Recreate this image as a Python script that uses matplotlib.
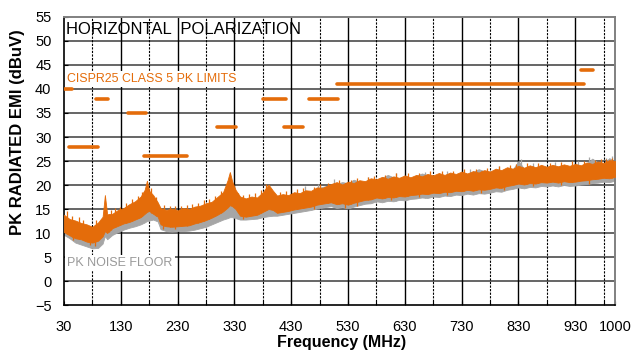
import numpy as np
import matplotlib
matplotlib.use("Agg")
import matplotlib.pyplot as plt

plt.rcParams['font.family'] = ['Liberation Sans', 'DejaVu Sans']

ORANGE = '#E46C0A'
GRAY = '#A6A6A6'

freq = [30, 40, 50, 60, 70, 80, 90, 98, 102, 106, 115, 125, 135, 145, 155, 165,
        172, 176, 180, 187, 195, 200, 210, 220, 230, 240, 250, 260, 270, 280,
        290, 300, 310, 318, 322, 326, 332, 340, 350, 360, 370, 380, 390, 398,
        405, 415, 425, 435, 445, 455, 465, 475, 485,
        500, 510, 520, 530, 540, 550, 560, 570, 580, 590, 600, 610, 620, 630,
        640, 650, 660, 670, 680, 690, 700, 710, 720, 730, 740, 750, 760, 770,
        780, 790, 800, 810, 820, 830, 840, 850, 860, 870, 880, 890, 900, 910,
        920, 930, 940, 950, 960, 970, 980, 990, 1000]

orange_hi = [13.8, 12.9, 12.6, 12.1, 11.8, 11.3, 12.2, 13.4, 17.9, 13.9, 14.0, 14.8,
             15.2, 16.0, 16.6, 17.6, 19.0, 20.9, 18.8, 17.9, 16.4, 15.2, 14.8, 15.1,
             14.7, 15.2, 15.0, 15.5, 15.7, 16.2, 16.5, 17.5, 18.5, 21.0, 22.7, 20.8,
             19.0, 17.6, 17.2, 17.6, 17.4, 18.5, 20.1, 18.8, 17.8, 18.1, 17.9, 18.5,
             18.3, 18.9, 18.8, 19.5, 19.4,
             20.2, 20.6, 20.1, 20.7, 20.4, 21.0, 20.8, 21.4, 21.2, 21.7, 21.3, 21.8,
             21.5, 22.0, 21.6, 22.1, 21.8, 22.3, 22.0, 22.5, 22.1, 22.6, 22.3, 22.8,
             22.4, 22.9, 22.6, 23.1, 22.8, 23.4, 23.1, 23.7, 23.4, 24.0, 23.6, 24.1,
             23.7, 24.2, 23.8, 24.2, 23.9, 24.3, 24.0, 24.4, 24.1, 24.7, 24.4, 24.9,
             24.6, 25.2, 25.0]

orange_lo = [10.2, 9.5, 8.9, 8.7, 8.2, 8.0, 8.4, 9.3, 10.4, 10.0, 11.0, 11.5,
             12.0, 12.3, 12.8, 13.3, 14.0, 14.4, 14.6, 14.0, 13.4, 11.8, 11.4, 11.3,
             11.4, 11.5, 11.6, 12.0, 12.3, 12.7, 13.2, 13.8, 14.5, 15.3, 15.8, 15.6,
             15.0, 13.6, 13.4, 13.6, 13.8, 14.4, 15.0, 14.8, 14.2, 14.4, 14.6, 14.9,
             15.1, 15.3, 15.5, 15.9, 16.1,
             16.4, 16.0, 16.2, 15.9, 16.3, 16.6, 16.9, 17.0, 17.4, 17.2, 17.5, 17.4,
             17.7, 17.6, 17.9, 18.0, 18.2, 18.1, 18.4, 18.3, 18.6, 18.5, 18.8, 18.7,
             19.0, 18.8, 19.1, 19.0, 19.2, 19.5, 19.4, 19.8, 20.0, 20.3, 20.1, 20.4,
             20.3, 20.6, 20.5, 20.7, 20.5, 20.8, 20.6, 20.7, 20.9, 21.0, 21.2, 21.3,
             21.5, 21.4, 21.7]

gray_hi = [12.4, 11.8, 11.2, 10.8, 10.4, 10.1, 10.6, 11.2, 11.8, 11.2, 11.6, 12.0,
           12.4, 12.9, 13.3, 13.9, 14.8, 15.4, 15.0, 15.8, 14.8, 12.9, 12.4, 12.2,
           12.3, 12.4, 12.5, 12.7, 13.0, 13.3, 13.7, 14.3, 15.4, 16.6, 17.1, 16.9,
           15.7, 14.3, 14.1, 14.1, 14.3, 15.0, 16.2, 15.7, 15.1, 15.2, 16.0, 16.6,
           17.2, 17.9, 18.4, 19.2, 19.6,
           20.0, 20.3, 20.6, 20.4, 21.1, 20.7, 20.6, 21.2, 21.0, 21.5, 22.1, 21.6,
           21.3, 21.8, 21.4, 21.9, 22.4, 22.1, 21.8, 22.3, 21.9, 22.4, 22.1, 22.6,
           22.2, 22.7, 23.3, 22.9, 22.6, 23.2, 22.9, 23.5, 23.2, 25.0, 23.4, 23.9,
           23.5, 24.0, 23.6, 24.0, 23.7, 24.1, 23.8, 24.2, 23.9, 24.5, 25.5, 24.7,
           24.4, 25.6, 24.8]

gray_lo = [9.6, 8.9, 8.0, 7.6, 7.2, 6.8, 6.9, 7.8, 9.4, 8.7, 9.6, 10.2,
           10.7, 11.1, 11.4, 11.8, 12.2, 12.5, 12.6, 12.8, 12.4, 10.8, 10.4, 10.3,
           10.4, 10.4, 10.5, 10.7, 11.0, 11.3, 11.8, 12.3, 12.8, 13.1, 13.3, 13.3,
           13.1, 12.8, 12.8, 12.9, 13.0, 13.3, 13.5, 13.6, 13.6, 13.8, 14.0, 14.2,
           14.4, 14.6, 14.8, 15.1, 15.3,
           15.6, 15.2, 15.4, 15.1, 15.5, 15.8, 16.1, 16.2, 16.6, 16.4, 16.7, 16.6,
           16.9, 16.8, 17.1, 17.2, 17.4, 17.3, 17.6, 17.5, 17.8, 17.7, 18.0, 17.9,
           18.2, 18.0, 18.3, 18.2, 18.4, 18.7, 18.6, 19.0, 19.2, 19.5, 19.3, 19.6,
           19.5, 19.8, 19.7, 19.9, 19.7, 20.0, 19.8, 19.9, 20.1, 20.2, 20.4, 20.5,
           20.7, 20.6, 20.9]

# single-bin spikes sticking out of the bands
spike_up_f = [36, 44, 57, 64, 86, 112, 120, 128, 140, 150, 160, 168, 184, 192, 206,
              216, 226, 236, 246, 256, 266, 276, 286, 296, 306, 336, 346, 356, 366,
              376, 386, 410, 420, 440, 450, 470, 480, 495, 515, 535, 545, 565, 575,
              595, 615, 635, 655, 675, 695, 715, 735, 755, 775, 795, 815, 825, 845,
              865, 885, 905, 925, 945, 965, 975, 985, 995]
spike_up_v = [14.6, 13.6, 13.3, 12.8, 12.7, 14.8, 15.2, 15.4, 16.2, 17.0, 17.8, 18.6,
              19.4, 17.4, 15.9, 15.6, 15.7, 15.6, 15.9, 16.0, 16.3, 16.8, 17.1, 17.8,
              18.7, 18.4, 18.0, 18.2, 18.3, 18.9, 20.2, 18.6, 18.7, 19.1, 19.3, 19.6,
              20.2, 20.5, 21.0, 21.1, 21.4, 21.7, 21.9, 22.0, 22.4, 22.5, 22.6, 22.9,
              23.0, 23.0, 23.3, 23.4, 23.6, 23.9, 24.2, 24.4, 24.5, 24.6, 24.5, 24.8,
              24.9, 25.0, 25.3, 25.4, 25.5, 25.6]
spike_dn_f = [45, 75, 85, 110, 205, 225, 345, 470, 525, 545, 605, 655, 705, 765,
              805, 855, 905, 955]
spike_dn_v = [8.6, 7.6, 7.2, 10.2, 10.9, 10.8, 12.9, 15.0, 15.3, 15.7, 16.8, 17.4,
              17.9, 18.4, 18.9, 19.7, 19.9, 20.3]
gray_spike_f = [455, 478, 505, 565, 615, 665, 705, 745, 795, 835, 855, 895, 935,
                955, 985, 995]
gray_spike_v = [19.8, 20.3, 21.2, 21.6, 22.4, 22.8, 22.9, 23.4, 23.9, 25.5, 24.6,
                24.8, 25.0, 25.8, 25.7, 26.0]

# CISPR25 class 5 peak limit segments
lim_start = [30, 39, 86, 142, 170, 300, 380, 418, 461, 510, 940]
lim_stop = [44, 90, 108, 175, 247, 332, 420, 451, 513, 945, 961]
lim_level = [40, 28, 38, 35, 26, 32, 38, 32, 38, 41, 44]

xticks = [30, 130, 230, 330, 430, 530, 630, 730, 830, 930, 1000]
xminor = [80, 180, 280, 380, 480, 580, 680, 780, 880, 980]
yticks = list(range(-5, 56, 5))

fig = plt.figure(figsize=(6.38, 3.51), dpi=100)
ax = fig.add_axes([0.1003, 0.131, 0.8636, 0.8206])
ax.set_xlim(30, 1000)
ax.set_ylim(-5, 55)

# grid
for y in yticks[1:-1]:
    ax.axhline(y, color='#3c3c3c', lw=1.1, zorder=1)
for x in xticks[1:-1]:
    ax.axvline(x, color='black', lw=1.0, zorder=1)
for x in xminor:
    ax.axvline(x, color='black', lw=0.8, ls=(0, (2, 1.2)), zorder=1)

# traces: noise floor (gray) under the measurement (orange)
ax.fill_between(freq, gray_lo, gray_hi, color=GRAY, lw=0.6, edgecolor=GRAY, zorder=2)
ax.vlines(gray_spike_f, np.interp(gray_spike_f, freq, gray_lo), gray_spike_v,
          color=GRAY, lw=0.9, zorder=2)
ax.fill_between(freq, orange_lo, orange_hi, color=ORANGE, lw=0.6, edgecolor=ORANGE, zorder=3)
ax.vlines(spike_up_f, np.interp(spike_up_f, freq, orange_lo), spike_up_v,
          color=ORANGE, lw=0.9, zorder=3)
ax.vlines(spike_dn_f, spike_dn_v, np.interp(spike_dn_f, freq, orange_hi),
          color=ORANGE, lw=0.9, zorder=3)

# limits
for a, b, lv in zip(lim_start, lim_stop, lim_level):
    ax.plot([a, b], [lv, lv], color=ORANGE, lw=2.6, solid_capstyle='round', zorder=4)

ax.set_xticks(xticks)
ax.set_xticks(xminor, minor=True)
ax.set_yticks(yticks)
ax.tick_params(axis='both', which='both', direction='in', labelsize=10.5,
               length=3, width=0.8)
ax.tick_params(axis='y', pad=9)
ax.tick_params(axis='x', pad=11)

for s in ['left', 'bottom']:
    ax.spines[s].set_color('black')
    ax.spines[s].set_linewidth(1.2)
for s in ['top', 'right']:
    ax.spines[s].set_color('#808080')
    ax.spines[s].set_linewidth(1.4)

ax.text(33, 52.3, 'HORIZONTAL  POLARIZATION', fontsize=12, va='center', ha='left', zorder=5)
ax.text(36, 42.1, 'CISPR25 CLASS 5 PK LIMITS', fontsize=8.9, color=ORANGE,
        va='center', ha='left', zorder=5,
        bbox=dict(facecolor='white', edgecolor='none', pad=1.5))
ax.text(36, 3.7, 'PK NOISE FLOOR', fontsize=9.0, color='#999999',
        va='center', ha='left', zorder=5,
        bbox=dict(facecolor='white', edgecolor='none', pad=1.5))

fig.text(342 / 638, 1 - 343 / 351, 'Frequency (MHz)', fontsize=11.5,
         fontweight='bold', ha='center', va='center')
fig.text(18 / 638, 1 - 132 / 351, 'PK RADIATED EMI (dBuV)', fontsize=12,
         fontweight='bold', ha='center', va='center', rotation=90)

fig.savefig('out.png', dpi=100)
